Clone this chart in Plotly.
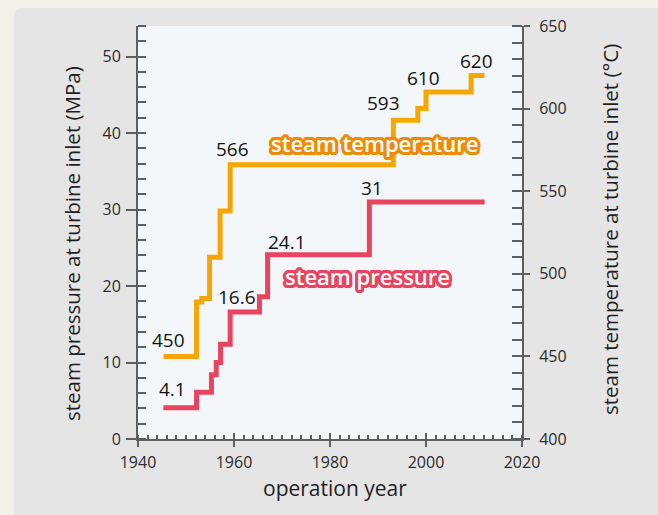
import math
import plotly.graph_objects as go

# ---------------- data ----------------
temp_years = [1945.3, 1952.2, 1953.3, 1954.9, 1957.1, 1959.2, 1993.2, 1998.3, 2000.0, 2009.4]
temp_values = [450, 483, 485, 510, 538, 566, 593, 600, 610, 620]
press_years = [1945.3, 1952.2, 1955.3, 1956.3, 1957.2, 1959.2, 1965.3, 1967.0, 1988.2]
press_values = [4.1, 6.1, 8.4, 10.0, 12.4, 16.6, 18.6, 24.1, 31.0]
end_year = 2012.2

temp_label_idx = [0, 5, 6, 8, 9]
press_label_idx = [0, 5, 7, 8]

x_title = "operation year"
y_left_title = "steam pressure at turbine inlet (MPa)"
y_right_title = "steam temperature at turbine inlet (°C)"
temp_name = "steam temperature"
press_name = "steam pressure"

# ---------------- style ----------------
W, H = 658, 515
ML, MR, MT, MB = 138, 136, 26, 76
PW, PH = W - ML - MR, H - MT - MB
FONT = "Open Sans"
ORANGE = "#f7a600"
ORANGE_DARK = "#f08a00"
PINK = "#e8435f"
AXIS = "#5e5e5e"
TXT = "#2b2b2b"

def pxx(px):
    return (px - ML) / PW

def pxy(py):
    return (H - MB - py) / PH

def outline(color, r=3.0, n=24):
    parts = []
    for k in range(n):
        a = 2 * math.pi * k / n
        parts.append(f"{r*math.cos(a):.2f}px {r*math.sin(a):.2f}px 0 {color}")
    return ", ".join(parts)

fig = go.Figure()

fig.add_trace(go.Scatter(
    x=temp_years + [end_year], y=temp_values + [temp_values[-1]],
    mode="lines", line=dict(color=ORANGE, width=5, shape="hv"),
    yaxis="y2", showlegend=False, hoverinfo="skip"))
fig.add_trace(go.Scatter(
    x=press_years + [end_year], y=press_values + [press_values[-1]],
    mode="lines", line=dict(color=PINK, width=5, shape="hv"),
    yaxis="y", showlegend=False, hoverinfo="skip"))

# dummy traces to activate overlay tick axes
for xa, ya in [("x2", "y"), ("x", "y3"), ("x", "y4")]:
    fig.add_trace(go.Scatter(x=[None], y=[None], xaxis=xa, yaxis=ya,
                             showlegend=False, hoverinfo="skip"))

tickfont = dict(family=FONT, size=16, color=TXT)

fig.update_layout(
    width=W, height=H,
    margin=dict(l=ML, r=MR, t=MT, b=MB),
    paper_bgcolor="#f3f0e8",
    plot_bgcolor="rgba(0,0,0,0)",
    showlegend=False,
    xaxis=dict(range=[1940, 2020], tick0=1940, dtick=20, ticks="outside", ticklen=6,
               tickwidth=2, tickcolor=AXIS, showline=True, linecolor=AXIS, linewidth=2,
               showgrid=False, zeroline=False, tickfont=tickfont, ticklabelstandoff=2,
               minor=dict(ticks="inside", dtick=2, ticklen=4, tickwidth=1.5, tickcolor=AXIS, showgrid=False),
               anchor="y"),
    xaxis2=dict(range=[1940, 2020], tick0=1940, dtick=20, ticks="inside", ticklen=6,
                tickwidth=2, tickcolor=AXIS, showline=False, showgrid=False, zeroline=False,
                showticklabels=False, overlaying="x", side="bottom", anchor="y"),
    yaxis=dict(range=[0, 54], tick0=0, dtick=10, ticks="outside", ticklen=10, tickwidth=2,
               tickcolor=AXIS, showline=True, linecolor=AXIS, linewidth=2, showgrid=False,
               zeroline=False, tickfont=tickfont, ticklabelstandoff=2,
               minor=dict(ticks="inside", dtick=2, ticklen=8, tickwidth=2, tickcolor=AXIS, showgrid=False)),
    yaxis2=dict(range=[400, 650], tick0=400, dtick=50, ticks="outside", ticklen=6, tickwidth=2,
                tickcolor=AXIS, showline=True, linecolor=AXIS, linewidth=2, showgrid=False,
                zeroline=False, tickfont=tickfont, side="right", overlaying="y", anchor="x",
                ticklabelstandoff=6,
                minor=dict(ticks="inside", dtick=10, ticklen=10, tickwidth=2, tickcolor=AXIS, showgrid=False)),
    yaxis3=dict(range=[0, 54], tick0=0, dtick=10, ticks="inside", ticklen=8, tickwidth=2,
                tickcolor=AXIS, showline=False, showgrid=False, zeroline=False,
                showticklabels=False, overlaying="y", side="left", anchor="x"),
    yaxis4=dict(range=[400, 650], tick0=400, dtick=50, ticks="inside", ticklen=10, tickwidth=2,
                tickcolor=AXIS, showline=False, showgrid=False, zeroline=False,
                showticklabels=False, overlaying="y", side="right", anchor="x"),
)

# background panel (rounded top-left corner) and plot area
r = 9
x0, y0 = 14, 8
x1, y1 = W + 5, H + 5
path = (f"M {pxx(x0)},{pxy(y0 + r)} Q {pxx(x0)},{pxy(y0)} {pxx(x0 + r)},{pxy(y0)} "
        f"L {pxx(x1)},{pxy(y0)} L {pxx(x1)},{pxy(y1)} L {pxx(x0)},{pxy(y1)} Z")
fig.add_shape(type="path", path=path, xref="paper", yref="paper",
              fillcolor="#e5e5e5", line=dict(width=0), layer="below")
fig.add_shape(type="rect", x0=0, x1=1, y0=0, y1=1, xref="paper", yref="paper",
              fillcolor="#f4f7fa", line=dict(width=0), layer="below")

# value labels
temp_shifts = [(5, 16), (2, 16), (-10, 17), (-3, 14), (5, 15)]
press_shifts = [(9, 19), (7, 15), (19, 13), (3, 14)]
labfont = dict(family=FONT, size=19, color="#111111", weight=500)
for i, (dx, dy) in zip(temp_label_idx, temp_shifts):
    fig.add_annotation(x=temp_years[i], y=temp_values[i], xref="x", yref="y2",
                       text=str(temp_values[i]), showarrow=False, xshift=dx, yshift=dy,
                       font=labfont, xanchor="center", yanchor="middle")
for i, (dx, dy) in zip(press_label_idx, press_shifts):
    v = press_values[i]
    txt = str(int(v)) if float(v).is_integer() else f"{v:.1f}"
    fig.add_annotation(x=press_years[i], y=v, xref="x", yref="y",
                       text=txt, showarrow=False, xshift=dx, yshift=dy,
                       font=labfont, xanchor="center", yanchor="middle")

# series name labels
fig.add_annotation(x=1989.2, y=579, xref="x", yref="y2", text=temp_name, showarrow=False,
                   font=dict(family=FONT, size=22, color="white", weight=600,
                             shadow=outline(ORANGE_DARK)),
                   xanchor="center", yanchor="middle")
fig.add_annotation(x=1987.8, y=21.3, xref="x", yref="y", text=press_name, showarrow=False,
                   font=dict(family=FONT, size=22, color="white", weight=600,
                             shadow=outline(PINK)),
                   xanchor="center", yanchor="middle")

# axis titles
titlefont = dict(family=FONT, size=20.5, color="#1f1f1f")
fig.add_annotation(x=pxx(335), y=pxy(488), xref="paper", yref="paper", text=x_title,
                   showarrow=False, font=dict(family=FONT, size=21, color="#1f1f1f"),
                   xanchor="center", yanchor="middle")
fig.add_annotation(x=pxx(72), y=pxy(244), xref="paper", yref="paper", text=y_left_title,
                   showarrow=False, font=titlefont, textangle=-90,
                   xanchor="center", yanchor="middle")
fig.add_annotation(x=pxx(610), y=pxy(230), xref="paper", yref="paper", text=y_right_title,
                   showarrow=False, font=titlefont, textangle=-90,
                   xanchor="center", yanchor="middle")

fig.write_html("out.html", config={"displayModeBar": False},
               post_script="document.body.style.margin='0px';")
